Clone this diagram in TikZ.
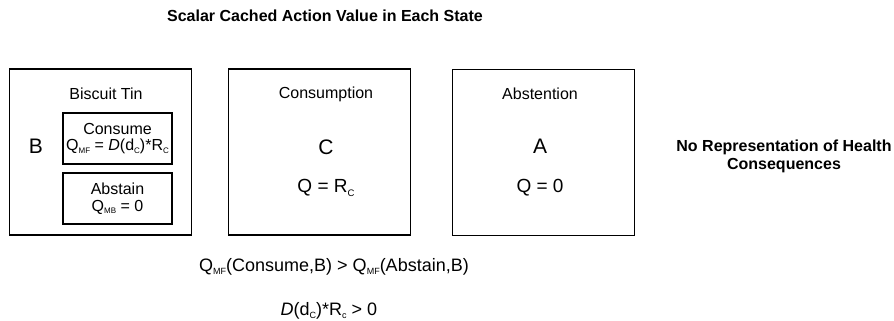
\documentclass[tikz,border=0pt]{standalone}
\usepackage{fontspec}
\setmainfont{Liberation Sans}
\newcommand{\sbs}[1]{\raisebox{-0.35ex}{\scalebox{0.5}{#1}}}
\begin{document}
\begin{tikzpicture}[x=1pt,y=-1pt,
  statebox/.style={draw, line width=1.4pt, minimum width=182pt, minimum height=166pt, inner sep=0pt},
  inbox/.style={draw, line width=1.4pt, minimum width=109pt, minimum height=51pt, inner sep=0pt, align=center, font=\fontsize{16}{16.5}\selectfont},
  lbl/.style={font=\fontsize{16}{19}\selectfont, inner sep=0pt},
  big/.style={font=\fontsize{21}{24}\selectfont, inner sep=0pt},
  qval/.style={font=\fontsize{19}{22}\selectfont, inner sep=0pt},
  head/.style={font=\bfseries\fontsize{16}{18}\selectfont, inner sep=0pt, align=center},
  eq/.style={font=\fontsize{18}{22}\selectfont, inner sep=0pt}]
\useasboundingbox (0,0) rectangle (894,321);

\node[head] (title) at (325,16) {Scalar Cached Action Value in Each State};

% Biscuit Tin state
\node[statebox] (B) at (100.5,152) {};
\node[lbl] (Btitle) at (106,94) {Biscuit Tin};
\node[big] (Bletter) at (36,146) {B};
\node[inbox] (consume) at (117.5,138.5) {Consume\\Q\sbs{MF} = \textit{D}(d\sbs{C})*R\sbs{C}};
\node[inbox] (abstain) at (117.5,198.5) {Abstain\\Q\sbs{MB} = 0};

% Consumption state
\node[statebox] (C) at (319.5,152) {};
\node[lbl] (Ctitle) at (326,94) {Consumption};
\node[big] (Cletter) at (326,147) {C};
\node[qval] (Cq) at (326,188) {Q = R\sbs{C}};

% Abstention state
\node[statebox] (A) at (543.5,152.5) {};
\node[lbl] (Atitle) at (540,94) {Abstention};
\node[big] (Aletter) at (540,146) {A};
\node[qval] (Aq) at (540,188) {Q = 0};

\node[head] (norep) at (784,156) {No Representation of Health\\Consequences};

\node[eq] (ineq) at (334,267) {Q\sbs{MF}(Consume,B) > Q\sbs{MF}(Abstain,B)};
\node[eq] (cond) at (329,311) {\textit{D}(d\sbs{C})*R\sbs{c} > 0};
\end{tikzpicture}
\end{document}
